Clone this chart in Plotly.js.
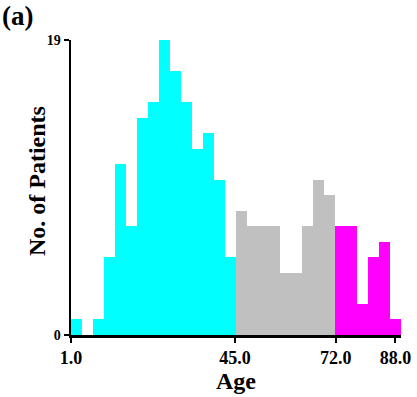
<!DOCTYPE html>
<html>
<head>
<meta charset="utf-8">
<script src="https://cdn.plot.ly/plotly-3.0.1.min.js"></script>
<style>html,body{margin:0;padding:0;background:#fff;}#chart{width:417px;height:397px;}</style>
</head>
<body>
<div id="chart"></div>
<script>
// Histogram of patient ages (3 age groups)
const binStart = 1;
const binWidth = 2.95;
const youngCounts = [1, 0, 1, 5, 11, 7, 14, 15, 19, 17, 15, 12, 13, 10, 5];
const middleCounts = [8, 7, 7, 7, 4, 4, 7, 10, 9];
const oldCounts = [7, 7, 2, 5, 6, 1];
const xTickVals = [1, 45, 72, 88];
const xTickText = ['1.0', '45.0', '72.0', '88.0'];
const yTickVals = [0, 19];

function centers(offset, n) {
  const out = [];
  for (let i = 0; i < n; i++) out.push(binStart + (offset + i + 0.5) * binWidth);
  return out;
}
const nY = youngCounts.length, nM = middleCounts.length, nO = oldCounts.length;
const serif = 'Liberation Serif, Times New Roman, serif';

const mk = (counts, offset, color) => ({
  type: 'bar',
  x: centers(offset, counts.length),
  y: counts,
  width: binWidth,
  marker: {color: color, line: {width: 0}},
  hoverinfo: 'x+y'
});

const data = [
  mk(youngCounts, 0, '#00FFFF'),
  mk(middleCounts, nY, '#C0C0C0'),
  mk(oldCounts, nY + nM, '#FF00FF')
];

const layout = {
  width: 417, height: 397,
  margin: {l: 71, r: 16, t: 40, b: 62},
  paper_bgcolor: '#fff', plot_bgcolor: '#fff',
  showlegend: false,
  bargap: 0, barmode: 'overlay',
  xaxis: {
    range: [binStart, binStart + (nY + nM + nO) * binWidth],
    tickvals: xTickVals, ticktext: xTickText,
    ticks: 'outside', ticklen: 5, tickwidth: 2, tickcolor: '#000',
    showline: true, linewidth: 2.5, linecolor: '#000',
    showgrid: false, zeroline: false,
    tickfont: {family: serif, size: 18, color: '#000', weight: 'bold'},
    title: {text: 'Age', font: {family: serif, size: 24, color: '#000', weight: 'bold'}, standoff: 0},
    automargin: false, fixedrange: true
  },
  yaxis: {
    range: [0, 19],
    tickvals: yTickVals,
    ticks: 'outside', ticklen: 5, tickwidth: 2, tickcolor: '#000',
    showline: true, linewidth: 2.5, linecolor: '#000',
    showgrid: false, zeroline: false,
    tickfont: {family: serif, size: 14, color: '#000', weight: 'bold'},
    automargin: false, fixedrange: true
  },
  annotations: [{
    text: '(a)', xref: 'paper', yref: 'paper',
    x: -0.215, y: 1.14, xanchor: 'left', yanchor: 'top', showarrow: false,
    font: {family: serif, size: 27, color: '#000', weight: 'bold'}
  }, {
    text: 'No. of Patients', xref: 'paper', yref: 'paper', textangle: -90,
    x: -0.103, y: 0.522, xanchor: 'center', yanchor: 'middle', showarrow: false,
    font: {family: serif, size: 24, color: '#000', weight: 'bold'}
  }]
};

Plotly.newPlot('chart', data, layout, {displayModeBar: false, staticPlot: true});
</script>
</body>
</html>
